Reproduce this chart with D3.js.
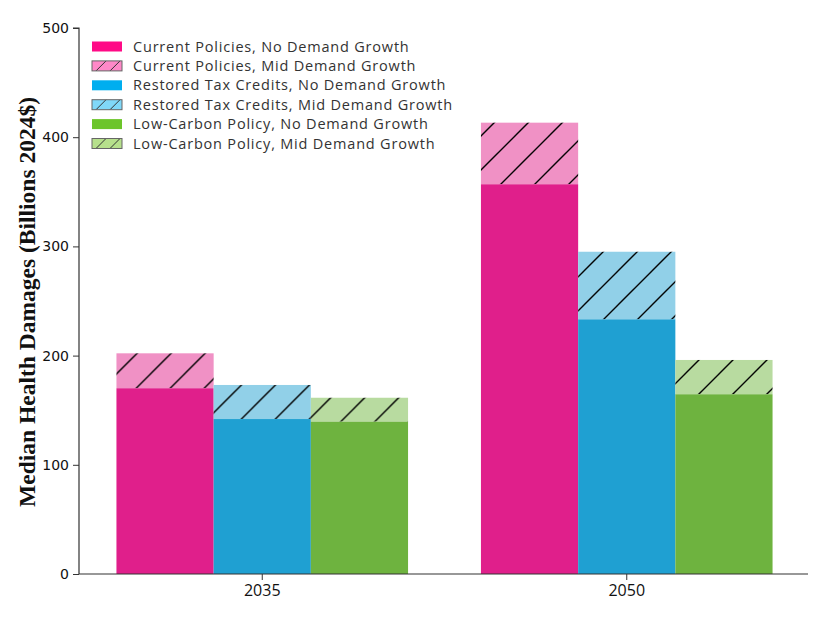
<!DOCTYPE html>
<html><head><meta charset="utf-8">
<script src="https://cdn.jsdelivr.net/npm/d3@7"></script>
<style>body{margin:0;background:#fff;}svg{display:block;}</style>
</head><body>
<svg id="chart" width="826" height="620"></svg>
<script>
const years = ["2035", "2050"];
const scenarios = ["Current Policies", "Restored Tax Credits", "Low-Carbon Policy"];
const noGrowth = [[170.1, 141.9, 139.5], [356.9, 233.2, 164.6]];
const midGrowth = [[202.1, 173.1, 161.4], [413.3, 295.1, 196.0]];
const yTicks = [0, 100, 200, 300, 400, 500];
const legendLabels = [
  "Current Policies, No Demand Growth", "Current Policies, Mid Demand Growth",
  "Restored Tax Credits, No Demand Growth", "Restored Tax Credits, Mid Demand Growth",
  "Low-Carbon Policy, No Demand Growth", "Low-Carbon Policy, Mid Demand Growth"];
const barSolid = ["#E01F8B", "#1FA0D2", "#6EB33F"];
const barLight = ["#F091C5", "#91D0E8", "#B8DBA0"];
const legSolid = ["#FF0A86", "#00AEEF", "#6CC52A"];
const legLight = ["#FF88C8", "#80D8F8", "#B6E08C"];

const svg = d3.select("#chart");
const m = {l: 79, r: 808, t: 28, b: 574};
const y = d3.scaleLinear().domain([0, 500]).range([m.b, m.t]);
const x0 = d3.scaleBand().domain(years).range([m.l + 1, m.r + 1]).paddingInner(0.2).paddingOuter(0.1);
const x1 = d3.scaleBand().domain(scenarios).range([0, x0.bandwidth()]);

const defs = svg.append("defs");
function hatch(id, bg) {
  const p = defs.append("pattern").attr("id", id).attr("patternUnits", "userSpaceOnUse")
    .attr("width", 34).attr("height", 34).attr("x", 0).attr("y", 0);
  p.append("rect").attr("width", 34).attr("height", 34).attr("fill", bg);
  p.append("path").attr("d", "M-4,38 L38,-4 M-4,4 L4,-4 M30,38 L38,30")
    .attr("stroke", "#000").attr("stroke-width", 1.4);
}
function hatchSmall(id, bg) {
  const p = defs.append("pattern").attr("id", id).attr("patternUnits", "userSpaceOnUse")
    .attr("width", 14).attr("height", 14);
  p.append("rect").attr("width", 14).attr("height", 14).attr("fill", bg);
  p.append("path").attr("d", "M-2,16 L16,-2").attr("stroke", "#333").attr("stroke-width", 1);
}
scenarios.forEach((s, i) => { hatch("h" + i, barLight[i]); hatchSmall("hs" + i, legLight[i]); });

// bars
years.forEach((yr, gi) => {
  const g = svg.append("g").attr("transform", `translate(${x0(yr)},0)`);
  scenarios.forEach((s, si) => {
    g.append("rect").attr("x", x1(s)).attr("width", x1.bandwidth())
      .attr("y", y(midGrowth[gi][si])).attr("height", y(noGrowth[gi][si]) - y(midGrowth[gi][si]))
      .attr("fill", `url(#h${si})`);
    g.append("rect").attr("x", x1(s)).attr("width", x1.bandwidth())
      .attr("y", y(noGrowth[gi][si])).attr("height", y(0) - y(noGrowth[gi][si]))
      .attr("fill", barSolid[si]);
  });
});

// axes
const yAxis = svg.append("g").attr("transform", `translate(${m.l},0)`)
  .call(d3.axisLeft(y).tickValues(yTicks).tickSize(6).tickPadding(4));
yAxis.selectAll("text").attr("font-family", "DejaVu Sans").attr("font-size", 14).attr("fill", "#111");
yAxis.select(".domain").attr("stroke", "#333").attr("stroke-width", 1.2).attr("d", `M-6,${m.t}H0V${m.b}`);
yAxis.selectAll(".tick line").attr("stroke", "#333");

const xAxis = svg.append("g").attr("transform", `translate(0,${m.b})`)
  .call(d3.axisBottom(x0).tickSize(6).tickPadding(5));
xAxis.select(".domain").attr("stroke", "#333").attr("stroke-width", 1.2).attr("d", `M${m.l},0H${m.r}`);
xAxis.selectAll("text").attr("font-family", "Open Sans").attr("font-size", 16).attr("fill", "#111");
xAxis.selectAll(".tick line").attr("stroke", "#333");

svg.append("text").attr("transform", `translate(35,302) rotate(-90)`)
  .attr("text-anchor", "middle").attr("font-family", "Liberation Serif").attr("font-weight", "bold")
  .attr("font-size", 23.5).attr("fill", "#111").text("Median Health Damages (Billions 2024$)");

// legend
const leg = svg.append("g").attr("transform", "translate(92,41.5)");
legendLabels.forEach((lab, i) => {
  const si = Math.floor(i / 2), mid = i % 2 === 1;
  const row = leg.append("g").attr("transform", `translate(0,${i * 19.4})`);
  row.append("rect").attr("width", 30).attr("height", 10)
    .attr("fill", mid ? `url(#hs${si})` : legSolid[si])
    .attr("stroke", mid ? "#666" : "none").attr("stroke-width", 1);
  row.append("text").attr("x", 41).attr("y", 5).attr("dy", "0.35em")
    .attr("font-family", "Open Sans").attr("font-size", 14.5).attr("letter-spacing", 0.8)
    .attr("fill", "#333").text(lab);
});
</script>
</body></html>
